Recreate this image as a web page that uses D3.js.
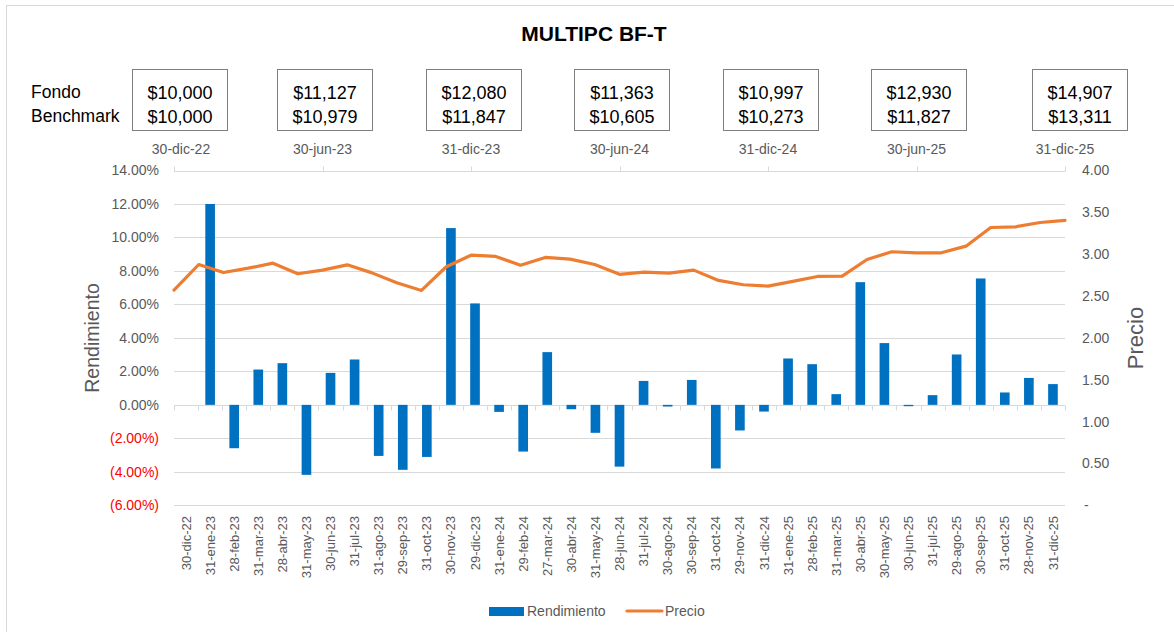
<!DOCTYPE html>
<html><head><meta charset="utf-8">
<script src="https://cdn.jsdelivr.net/npm/d3@7/dist/d3.min.js"></script>
<style>
body{margin:0;background:#fff;}
svg{display:block;font-family:"Liberation Sans",Arial,sans-serif;}
</style>
</head><body>
<svg id="chart" width="1174" height="632"></svg>
<script>
const title = "MULTIPC BF-T";
const categories = ["30-dic-22","31-ene-23","28-feb-23","31-mar-23","28-abr-23","31-may-23","30-jun-23","31-jul-23","31-ago-23","29-sep-23","31-oct-23","30-nov-23","29-dic-23","31-ene-24","29-feb-24","27-mar-24","30-abr-24","31-may-24","28-jun-24","31-jul-24","30-ago-24","30-sep-24","31-oct-24","29-nov-24","31-dic-24","31-ene-25","28-feb-25","31-mar-25","30-abr-25","30-may-25","30-jun-25","31-jul-25","29-ago-25","30-sep-25","31-oct-25","28-nov-25","31-dic-25"];
const rendimiento = [0,0.1200,-0.0259,0.0211,0.0249,-0.0418,0.0191,0.0271,-0.0305,-0.0388,-0.0311,0.1056,0.0606,-0.0042,-0.0279,0.0315,-0.0026,-0.0167,-0.0369,0.0143,-0.0010,0.0149,-0.0380,-0.0153,-0.0040,0.0277,0.0243,0.0064,0.0733,0.0369,-0.0008,0.0058,0.0301,0.0755,0.0074,0.0161,0.0124];
const precio = [2.571,2.877,2.781,2.833,2.893,2.766,2.810,2.873,2.777,2.659,2.567,2.850,2.988,2.973,2.869,2.961,2.941,2.877,2.760,2.785,2.773,2.810,2.687,2.635,2.619,2.675,2.734,2.738,2.937,3.029,3.017,3.017,3.096,3.319,3.327,3.379,3.403];
const leftTicks = [-0.06,-0.04,-0.02,0,0.02,0.04,0.06,0.08,0.10,0.12,0.14];
const rightTicks = [0,0.5,1,1.5,2,2.5,3,3.5,4];
const boxDates = ["30-dic-22","30-jun-23","31-dic-23","30-jun-24","31-dic-24","30-jun-25","31-dic-25"];
const fondoValues = [10000,11127,12080,11363,10997,12930,14907];
const benchmarkValues = [10000,10979,11847,10605,10273,11827,13311];
const rowLabels = ["Fondo","Benchmark"];
const legendLabels = ["Rendimiento","Precio"];
const axisTitles = ["Rendimiento","Precio"];

const svg = d3.select("#chart");
const W = 1174, H = 632;
const L = 174, R = 1065, T = 170.5, B = 505.3;
const gray = "#595959", grid = "#D9D9D9", blue = "#0070C0", orange = "#ED7D31";

// chart border
svg.append("rect").attr("x",6.5).attr("y",5.5).attr("width",W).attr("height",H)
  .attr("fill","#fff").attr("stroke",grid);

const x = d3.scaleBand().domain(categories).range([L,R]).paddingInner(0.6).paddingOuter(0.3);
const xp = d3.scalePoint().domain(categories).range([L,R]);
const yL = d3.scaleLinear().domain([-0.06,0.14]).range([B,T]);
const yR = d3.scaleLinear().domain([0,4]).range([B,T]);

// gridlines
svg.append("g").selectAll("line").data(leftTicks).join("line")
  .attr("x1",L).attr("x2",R).attr("y1",d=>Math.round(yL(d))+0.5).attr("y2",d=>Math.round(yL(d))+0.5)
  .attr("stroke",grid).attr("stroke-width",1);

// bottom category ticks on zero line
const step = x.step();
const y0 = Math.round(yL(0))+0.5;
svg.append("g").selectAll("line").data(d3.range(categories.length+1)).join("line")
  .attr("x1",i=>Math.round(L+i*step)+0.5).attr("x2",i=>Math.round(L+i*step)+0.5)
  .attr("y1",y0).attr("y2",y0+5).attr("stroke",grid);

// top secondary axis ticks
const topIdx = boxDates.map((d,i)=>i*6);
const yT = Math.round(T)+0.5;
svg.append("g").selectAll("line").data(topIdx).join("line")
  .attr("x1",i=>Math.round(xp(categories[i]))+0.5).attr("x2",i=>Math.round(xp(categories[i]))+0.5)
  .attr("y1",yT).attr("y2",yT-5).attr("stroke",grid);

// bars
svg.append("g").selectAll("rect").data(categories.map((c,i)=>({c,v:rendimiento[i]}))).join("rect")
  .attr("x",d=>x(d.c)).attr("width",x.bandwidth())
  .attr("y",d=>Math.min(yL(0),yL(d.v))).attr("height",d=>Math.abs(yL(d.v)-yL(0)))
  .attr("fill",blue);

// line
const line = d3.line().x((d,i)=>xp(categories[i])).y(d=>yR(d));
svg.append("path").datum(precio).attr("d",line).attr("fill","none")
  .attr("stroke",orange).attr("stroke-width",3.2).attr("stroke-linejoin","round").attr("stroke-linecap","round");

// left axis labels
const fmtL = d => d < 0 ? "(" + d3.format(".2%")(-d) + ")" : d3.format(".2%")(d);
svg.append("g").selectAll("text").data(leftTicks).join("text")
  .attr("x",159).attr("y",d=>yL(d)).attr("dy","0.35em").attr("text-anchor","end")
  .attr("font-size",14).attr("fill",d=>d<0?"#FF0000":gray).text(fmtL);

// right axis labels
const fmtR = d => d === 0 ? "-" : d3.format(".2f")(d);
svg.append("g").selectAll("text").data(rightTicks).join("text")
  .attr("x",d=>d===0?1084:1082).attr("y",d=>yR(d)).attr("dy","0.35em").attr("text-anchor","start")
  .attr("font-size",14).attr("fill",gray).text(fmtR);

// x labels
svg.append("g").selectAll("text").data(categories).join("text")
  .attr("transform",d=>`translate(${x(d)+x.bandwidth()/2},516) rotate(-90)`)
  .attr("dy","0.35em").attr("text-anchor","end").attr("font-size",13).attr("fill",gray).text(d=>d);

// axis titles
svg.append("text").attr("transform","translate(92,338) rotate(-90)").attr("dy","0.35em")
  .attr("text-anchor","middle").attr("font-size",19.5).attr("fill",gray).text(axisTitles[0]);
svg.append("text").attr("transform","translate(1135,338) rotate(-90)").attr("dy","0.35em")
  .attr("text-anchor","middle").attr("font-size",22).attr("fill",gray).text(axisTitles[1]);

// title
svg.append("text").attr("x",594).attr("y",34).attr("dy","0.35em").attr("text-anchor","middle")
  .attr("font-size",21).attr("font-weight","bold").attr("fill","#000").text(title);

// row labels
svg.append("g").selectAll("text").data(rowLabels).join("text")
  .attr("x",31).attr("y",(d,i)=>92+i*24).attr("dy","0.35em").attr("font-size",17.5).attr("fill","#000").text(d=>d);

// boxes
const boxW = 95, boxH = 61, boxY = 69.5;
const fmtMoney = d => "$" + d3.format(",")(d);
const nB = boxDates.length;
const boxG = svg.append("g").selectAll("g").data(boxDates.map((d,i)=>({d,i}))).join("g")
  .attr("transform",o=>{
    const tx = xp(categories[topIdx[o.i]]);
    const shift = o.i===0 ? 5 : (o.i===nB-1 ? 14 : 2);
    return `translate(${Math.round(tx+shift-boxW/2)+0.5},${boxY})`;
  });
boxG.append("rect").attr("width",boxW).attr("height",boxH).attr("fill","#fff").attr("stroke","#7F7F7F");
boxG.append("text").attr("x",boxW/2).attr("y",23.5).attr("dy","0.35em").attr("text-anchor","middle")
  .attr("font-size",18).attr("fill","#000").text(o=>fmtMoney(fondoValues[o.i]));
boxG.append("text").attr("x",boxW/2).attr("y",47.5).attr("dy","0.35em").attr("text-anchor","middle")
  .attr("font-size",18).attr("fill","#000").text(o=>fmtMoney(benchmarkValues[o.i]));

// top date labels
svg.append("g").selectAll("text").data(boxDates.map((d,i)=>({d,i}))).join("text")
  .attr("x",o=>{const tx = xp(categories[topIdx[o.i]]); return o.i===0 ? tx+7 : tx;})
  .attr("y",149).attr("dy","0.35em").attr("text-anchor","middle")
  .attr("font-size",14).attr("fill",gray).text(o=>o.d);

// legend
const lg = svg.append("g");
lg.append("rect").attr("x",489).attr("y",607).attr("width",35).attr("height",9).attr("fill",blue);
lg.append("text").attr("x",527).attr("y",611.5).attr("dy","0.35em").attr("font-size",14).attr("fill",gray).text(legendLabels[0]);
lg.append("line").attr("x1",627).attr("x2",662).attr("y1",611).attr("y2",611)
  .attr("stroke",orange).attr("stroke-width",3.2).attr("stroke-linecap","round");
lg.append("text").attr("x",665).attr("y",611.5).attr("dy","0.35em").attr("font-size",14).attr("fill",gray).text(legendLabels[1]);
</script>
</body></html>
